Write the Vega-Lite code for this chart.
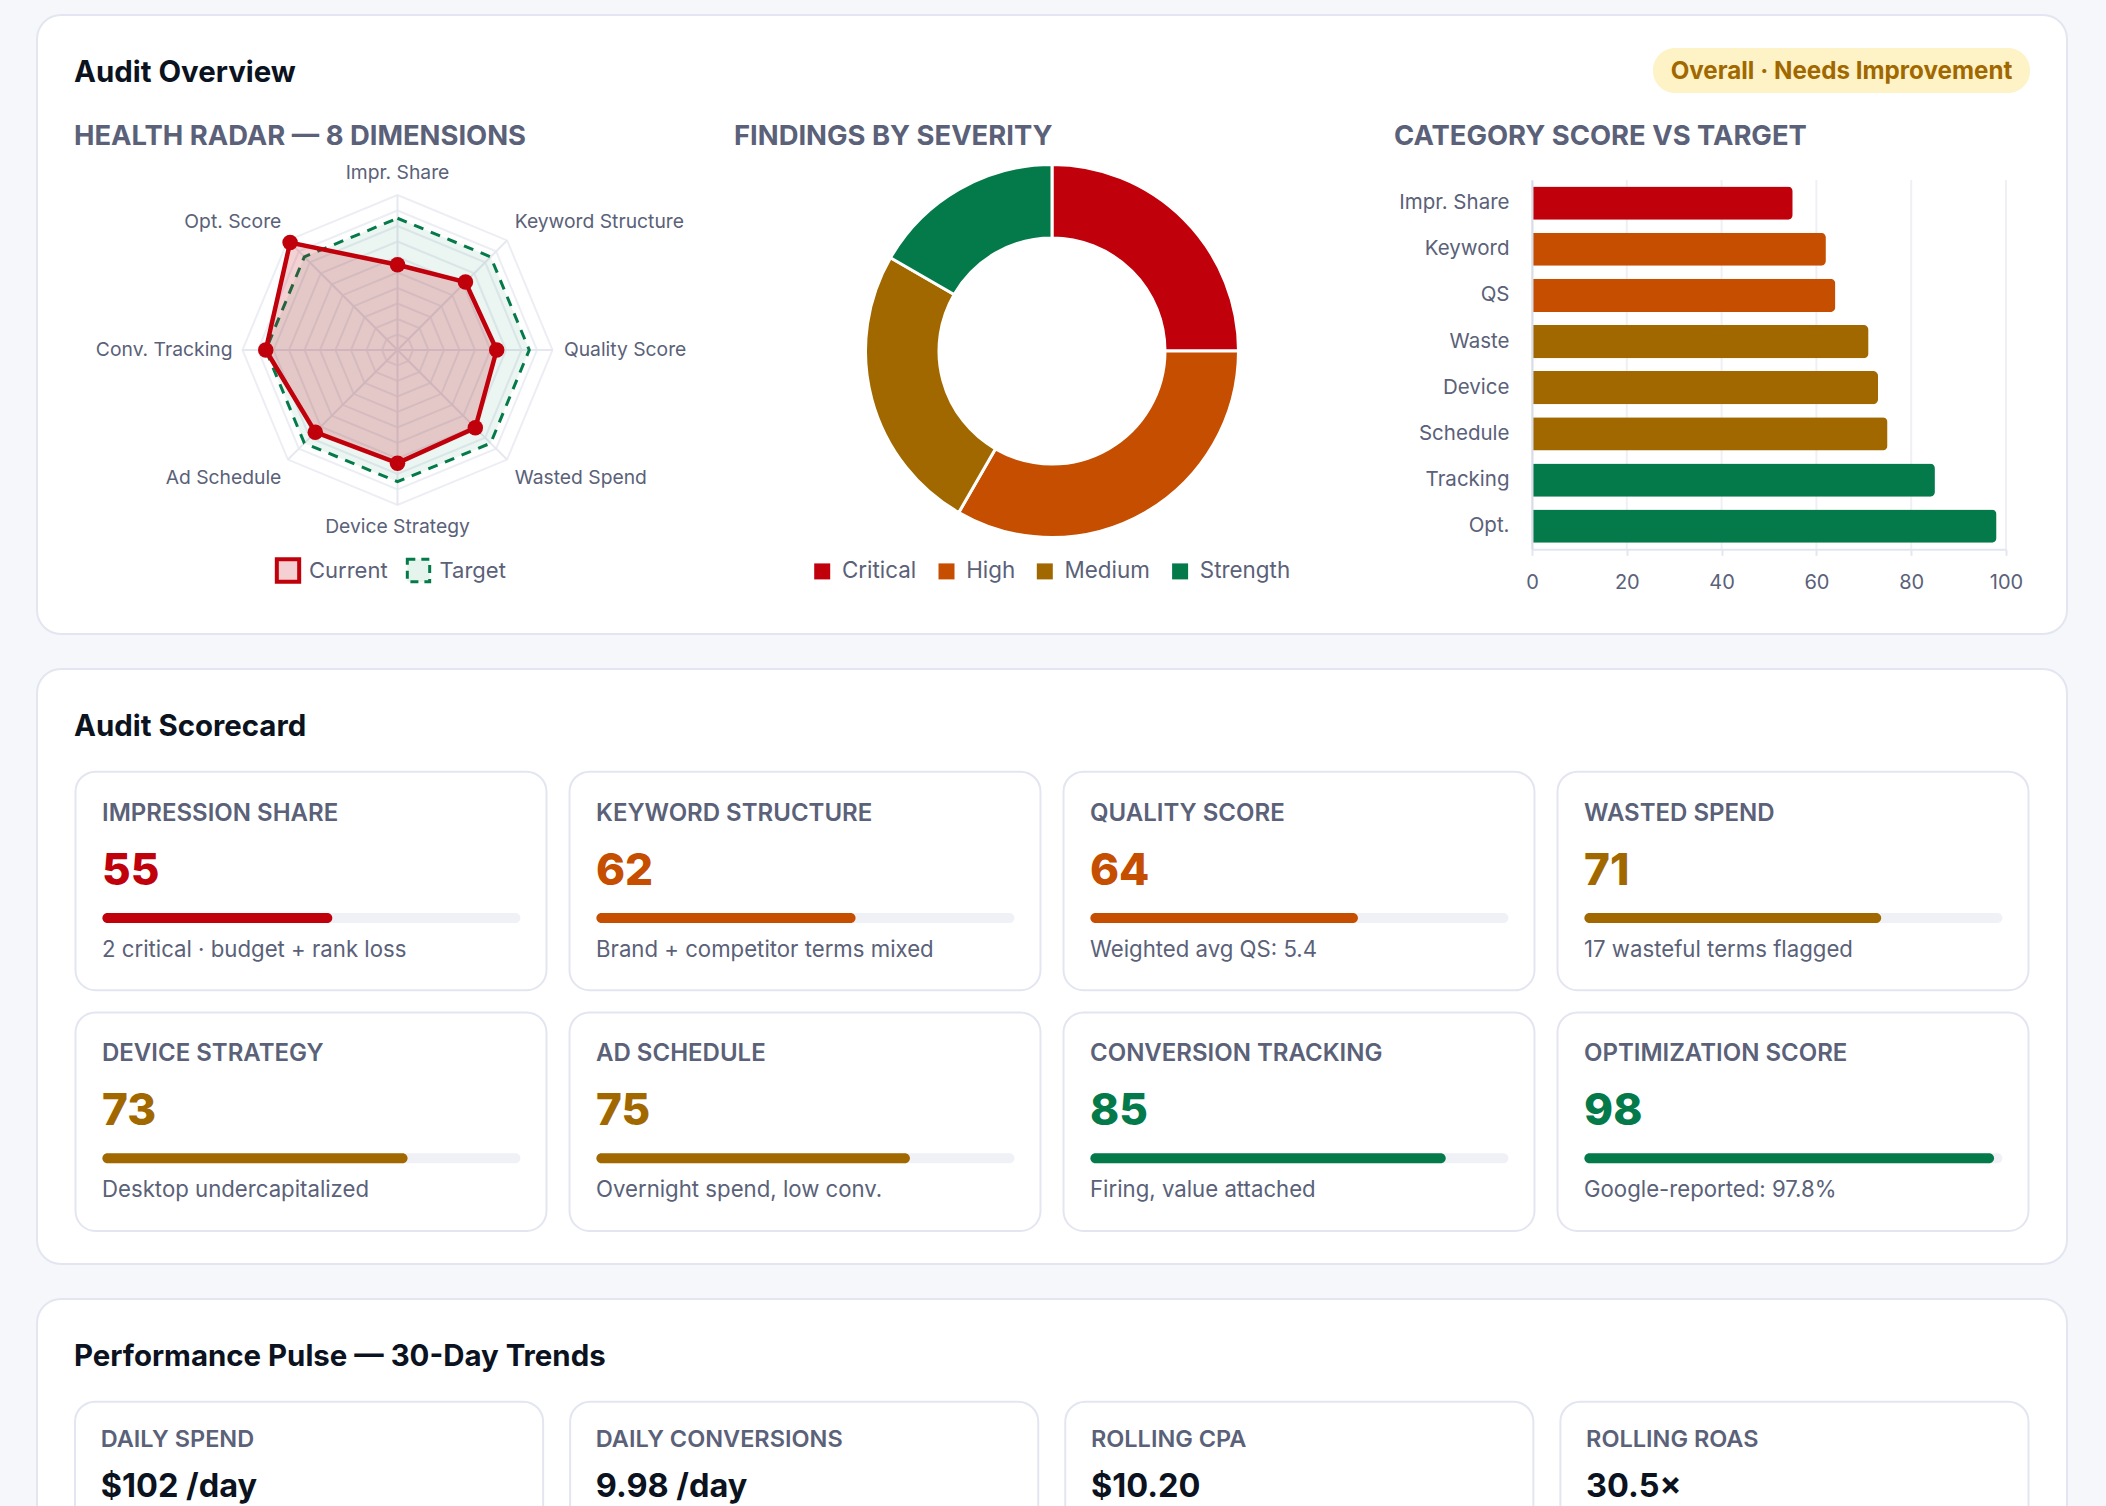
{
  "$schema": "https://vega.github.io/schema/vega-lite/v6.json",
  "description": "Audit dashboard: radar, severity donut, category bars, scorecards and pulse cards.",
  "width": 2106,
  "height": 1506,
  "padding": 0,
  "autosize": {"type": "none"},
  "background": "#f5f7fb",
  "config": {
    "font": "Inter",
    "view": {"stroke": null},
    "text": {"align": "left", "baseline": "middle"}
  },
  "datasets": {
    "audit": [
      {"category": "IMPRESSION SHARE", "radar_label": "Impr. Share", "bar_label": "Impr. Share", "score": 55, "target": 85, "severity": "Critical", "note": "2 critical · budget + rank loss"},
      {"category": "KEYWORD STRUCTURE", "radar_label": "Keyword Structure", "bar_label": "Keyword", "score": 62, "target": 85, "severity": "High", "note": "Brand + competitor terms mixed"},
      {"category": "QUALITY SCORE", "radar_label": "Quality Score", "bar_label": "QS", "score": 64, "target": 85, "severity": "High", "note": "Weighted avg QS: 5.4"},
      {"category": "WASTED SPEND", "radar_label": "Wasted Spend", "bar_label": "Waste", "score": 71, "target": 85, "severity": "Medium", "note": "17 wasteful terms flagged"},
      {"category": "DEVICE STRATEGY", "radar_label": "Device Strategy", "bar_label": "Device", "score": 73, "target": 85, "severity": "Medium", "note": "Desktop undercapitalized"},
      {"category": "AD SCHEDULE", "radar_label": "Ad Schedule", "bar_label": "Schedule", "score": 75, "target": 85, "severity": "Medium", "note": "Overnight spend, low conv."},
      {"category": "CONVERSION TRACKING", "radar_label": "Conv. Tracking", "bar_label": "Tracking", "score": 85, "target": 85, "severity": "Strength", "note": "Firing, value attached"},
      {"category": "OPTIMIZATION SCORE", "radar_label": "Opt. Score", "bar_label": "Opt.", "score": 98, "target": 85, "severity": "Strength", "note": "Google-reported: 97.8%"}
    ],
    "findings": [
      {"severity": "Critical", "count": 3, "rank": 1},
      {"severity": "High", "count": 4, "rank": 2},
      {"severity": "Medium", "count": 3, "rank": 3},
      {"severity": "Strength", "count": 2, "rank": 4}
    ],
    "pulse": [
      {"metric": "DAILY SPEND", "value": "$102 /day"},
      {"metric": "DAILY CONVERSIONS", "value": "9.98 /day"},
      {"metric": "ROLLING CPA", "value": "$10.20"},
      {"metric": "ROLLING ROAS", "value": "30.5×"}
    ],
    "rings": [
      {"ring": 10, "spoke": [0,1,2,3,4,5,6,7,8]},
      {"ring": 20, "spoke": [0,1,2,3,4,5,6,7,8]},
      {"ring": 30, "spoke": [0,1,2,3,4,5,6,7,8]},
      {"ring": 40, "spoke": [0,1,2,3,4,5,6,7,8]},
      {"ring": 50, "spoke": [0,1,2,3,4,5,6,7,8]},
      {"ring": 60, "spoke": [0,1,2,3,4,5,6,7,8]},
      {"ring": 70, "spoke": [0,1,2,3,4,5,6,7,8]},
      {"ring": 80, "spoke": [0,1,2,3,4,5,6,7,8]},
      {"ring": 90, "spoke": [0,1,2,3,4,5,6,7,8]},
      {"ring": 100, "spoke": [0,1,2,3,4,5,6,7,8]}
    ],
    "ticks": [{"tick": 0}, {"tick": 20}, {"tick": 40}, {"tick": 60}, {"tick": 80}, {"tick": 100}]
  },
  "resolve": {"scale": {"x": "independent", "y": "independent"}},
  "layer": [
    {
      "data": {"values": [{"section": "Audit Overview"}]},
      "mark": {"type": "rect", "fill": "white", "stroke": "#e3e6f0", "strokeWidth": 2, "cornerRadius": 24},
      "encoding": {
        "x": {"datum": 0, "axis": null, "scale": {"domain": [0, 1], "range": [37, 2067]}},
        "x2": {"datum": 1},
        "y": {"datum": 0, "axis": null, "scale": {"domain": [0, 1], "range": [15, 634]}},
        "y2": {"datum": 1}
      }
    },
    {
      "data": {"values": [{"section": "Audit Scorecard"}]},
      "mark": {"type": "rect", "fill": "white", "stroke": "#e3e6f0", "strokeWidth": 2, "cornerRadius": 24},
      "encoding": {
        "x": {"datum": 0, "axis": null, "scale": {"domain": [0, 1], "range": [37, 2067]}},
        "x2": {"datum": 1},
        "y": {"datum": 0, "axis": null, "scale": {"domain": [0, 1], "range": [669, 1264]}},
        "y2": {"datum": 1}
      }
    },
    {
      "data": {"values": [{"section": "Performance Pulse"}]},
      "mark": {"type": "rect", "fill": "white", "stroke": "#e3e6f0", "strokeWidth": 2, "cornerRadius": 24},
      "encoding": {
        "x": {"datum": 0, "axis": null, "scale": {"domain": [0, 1], "range": [37, 2067]}},
        "x2": {"datum": 1},
        "y": {"datum": 0, "axis": null, "scale": {"domain": [0, 1], "range": [1299, 1900]}},
        "y2": {"datum": 1}
      }
    },
    {
      "data": {"values": [{"label": "Audit Overview"}]},
      "mark": {"type": "text", "fontSize": 29.4, "fontWeight": 700, "fill": "#0b1220"},
      "encoding": {
        "text": {"field": "label"},
        "x": {"datum": 0, "axis": null, "scale": {"domain": [0, 1], "range": [74, 1074]}},
        "y": {"datum": 0, "axis": null, "scale": {"domain": [0, 1], "range": [73, 173]}}
      }
    },
    {
      "data": {"values": [{"label": "Audit Scorecard"}]},
      "mark": {"type": "text", "fontSize": 29.4, "fontWeight": 700, "fill": "#0b1220"},
      "encoding": {
        "text": {"field": "label"},
        "x": {"datum": 0, "axis": null, "scale": {"domain": [0, 1], "range": [74, 1074]}},
        "y": {"datum": 0, "axis": null, "scale": {"domain": [0, 1], "range": [727, 827]}}
      }
    },
    {
      "data": {"values": [{"label": "Performance Pulse — 30-Day Trends"}]},
      "mark": {"type": "text", "fontSize": 29.4, "fontWeight": 700, "fill": "#0b1220"},
      "encoding": {
        "text": {"field": "label"},
        "x": {"datum": 0, "axis": null, "scale": {"domain": [0, 1], "range": [74, 1074]}},
        "y": {"datum": 0, "axis": null, "scale": {"domain": [0, 1], "range": [1357, 1457]}}
      }
    },
    {
      "data": {"values": [{"label": "Overall · Needs Improvement"}]},
      "encoding": {
        "x": {"datum": 0, "axis": null, "scale": {"domain": [0, 1], "range": [1653, 2030]}},
        "y": {"datum": 0, "axis": null, "scale": {"domain": [0, 1], "range": [48, 93]}}
      },
      "layer": [
        {
          "mark": {"type": "rect", "fill": "#fdf3c7", "cornerRadius": 22},
          "encoding": {"x2": {"datum": 1}, "y2": {"datum": 1}}
        },
        {
          "mark": {"type": "text", "align": "center", "dy": 1, "fontSize": 24.2, "fontWeight": 700, "fill": "#a16800"},
          "encoding": {
            "text": {"field": "label"},
            "x": {"datum": 0.5, "axis": null},
            "y": {"datum": 0.5, "axis": null}
          }
        }
      ]
    },
    {
      "data": {"values": [{"label": "HEALTH RADAR — 8 DIMENSIONS"}, {"label": "FINDINGS BY SEVERITY"}, {"label": "CATEGORY SCORE VS TARGET"}]},
      "mark": {"type": "text", "fontSize": 27.4, "fontWeight": 700, "fill": "#5a6178"},
      "encoding": {
        "text": {"field": "label"},
        "x": {"field": "label", "type": "nominal", "sort": null, "axis": null, "scale": {"type": "point", "padding": 0, "range": [74, 1394]}},
        "y": {"datum": 0, "axis": null, "scale": {"domain": [0, 1], "range": [137, 237]}}
      }
    },
    {
      "data": {"name": "audit"},
      "transform": [
        {"window": [{"op": "row_number", "as": "n"}]},
        {"calculate": "(datum.n - 1) * PI / 4", "as": "ang"},
        {"calculate": "sin(datum.ang)", "as": "sin"},
        {"calculate": "cos(datum.ang)", "as": "cos"}
      ],
      "encoding": {
        "x": {"field": "px", "type": "quantitative", "axis": null, "scale": {"domain": [-100, 100], "range": [242.5, 552.5]}},
        "y": {"field": "py", "type": "quantitative", "axis": null, "scale": {"domain": [-100, 100], "range": [505, 195]}}
      },
      "layer": [
        {
          "data": {"name": "rings"},
          "transform": [
            {"flatten": ["spoke"]},
            {"calculate": "datum.ring * sin(datum.spoke * PI / 4)", "as": "px"},
            {"calculate": "datum.ring * cos(datum.spoke * PI / 4)", "as": "py"}
          ],
          "mark": {"type": "line", "stroke": "#eceef4", "strokeWidth": 2},
          "encoding": {
            "detail": {"field": "ring"},
            "order": {"field": "spoke", "type": "quantitative"}
          }
        },
        {
          "transform": [
            {"calculate": "0", "as": "px"},
            {"calculate": "0", "as": "py"},
            {"calculate": "100 * datum.sin", "as": "ex"},
            {"calculate": "100 * datum.cos", "as": "ey"}
          ],
          "mark": {"type": "rule", "stroke": "#e6e8f0", "strokeWidth": 2},
          "encoding": {
            "x2": {"field": "ex"},
            "y2": {"field": "ey"}
          }
        },
        {
          "transform": [
            {"calculate": "datum.target * datum.sin", "as": "px"},
            {"calculate": "datum.target * datum.cos", "as": "py"}
          ],
          "mark": {"type": "line", "interpolate": "linear-closed", "fill": "#047a4a", "fillOpacity": 0.08, "stroke": "#047a4a", "strokeWidth": 3, "strokeDash": [10, 8]},
          "encoding": {"order": {"field": "n", "type": "quantitative"}}
        },
        {
          "transform": [
            {"calculate": "datum.score * datum.sin", "as": "px"},
            {"calculate": "datum.score * datum.cos", "as": "py"}
          ],
          "mark": {"type": "line", "interpolate": "linear-closed", "fill": "#c0000a", "fillOpacity": 0.18, "stroke": "#c0000a", "strokeWidth": 4.5},
          "encoding": {"order": {"field": "n", "type": "quantitative"}}
        },
        {
          "transform": [
            {"calculate": "datum.score * datum.sin", "as": "px"},
            {"calculate": "datum.score * datum.cos", "as": "py"}
          ],
          "mark": {"type": "circle", "size": 240, "fill": "#c0000a", "opacity": 1}
        },
        {
          "transform": [
            {"filter": "datum.n == 1 || datum.n == 5"},
            {"calculate": "114.5 * datum.sin", "as": "px"},
            {"calculate": "114.5 * datum.cos", "as": "py"}
          ],
          "mark": {"type": "text", "align": "center", "fontSize": 19.3, "fill": "#5a6178"},
          "encoding": {"text": {"field": "radar_label"}}
        },
        {
          "transform": [
            {"filter": "datum.n == 2 || datum.n == 4"},
            {"calculate": "116.5 * datum.sin", "as": "px"},
            {"calculate": "116.5 * datum.cos", "as": "py"}
          ],
          "mark": {"type": "text", "align": "left", "dx": -10.5, "fontSize": 19.3, "fill": "#5a6178"},
          "encoding": {"text": {"field": "radar_label"}}
        },
        {
          "transform": [
            {"filter": "datum.n == 6 || datum.n == 8"},
            {"calculate": "116.5 * datum.sin", "as": "px"},
            {"calculate": "116.5 * datum.cos", "as": "py"}
          ],
          "mark": {"type": "text", "align": "right", "dx": 11.5, "fontSize": 19.3, "fill": "#5a6178"},
          "encoding": {"text": {"field": "radar_label"}}
        },
        {
          "transform": [
            {"filter": "datum.n == 3"},
            {"calculate": "107.4 * datum.sin", "as": "px"},
            {"calculate": "107.4 * datum.cos", "as": "py"}
          ],
          "mark": {"type": "text", "align": "left", "fontSize": 19.3, "fill": "#5a6178"},
          "encoding": {"text": {"field": "radar_label"}}
        },
        {
          "transform": [
            {"filter": "datum.n == 7"},
            {"calculate": "107.4 * datum.sin", "as": "px"},
            {"calculate": "107.4 * datum.cos", "as": "py"}
          ],
          "mark": {"type": "text", "align": "right", "dx": 1.5, "fontSize": 19.3, "fill": "#5a6178"},
          "encoding": {"text": {"field": "radar_label"}}
        }
      ]
    },
    {
      "data": {"values": [{"series": "Current"}, {"series": "Target"}]},
      "encoding": {
        "x": {"field": "series", "type": "nominal", "axis": null, "scale": {"type": "point", "padding": 0, "range": [288, 418.5]}},
        "y": {"datum": 0, "axis": null, "scale": {"domain": [0, 1], "range": [570.5, 670.5]}}
      },
      "layer": [
        {
          "transform": [{"filter": "datum.series == 'Current'"}],
          "mark": {"type": "square", "size": 500, "fill": "#f5d0d2", "stroke": "#c0000a", "strokeWidth": 4, "opacity": 1}
        },
        {
          "transform": [{"filter": "datum.series == 'Target'"}],
          "mark": {"type": "square", "size": 500, "fill": "#e6f4ee", "stroke": "#047a4a", "strokeWidth": 3, "strokeDash": [8, 6], "opacity": 1}
        },
        {
          "mark": {"type": "text", "dx": 21, "fontSize": 22, "fill": "#5a6178"},
          "encoding": {"text": {"field": "series"}}
        }
      ]
    },
    {
      "data": {"name": "findings"},
      "mark": {"type": "arc", "innerRadius": 113, "outerRadius": 186.5, "stroke": "white", "strokeWidth": 3},
      "encoding": {
        "x": {"datum": 0, "axis": null, "scale": {"domain": [0, 1], "range": [1052, 2052]}},
        "y": {"datum": 0, "axis": null, "scale": {"domain": [0, 1], "range": [351, 1351]}},
        "theta": {"field": "count", "type": "quantitative", "stack": true},
        "order": {"field": "rank", "type": "quantitative"},
        "color": {
          "field": "severity",
          "type": "nominal",
          "scale": {"domain": ["Critical", "High", "Medium", "Strength"], "range": ["#c0000a", "#c54e00", "#a16800", "#047a4a"]},
          "legend": {
            "title": null,
            "orient": "none",
            "legendX": 811,
            "legendY": 560,
            "direction": "horizontal",
            "columns": 4,
            "symbolType": "square",
            "symbolSize": 256,
            "symbolStrokeWidth": 0,
            "labelFontSize": 22.4,
            "labelColor": "#5a6178",
            "labelOffset": 8.5,
            "columnPadding": 18.3
          }
        }
      }
    },
    {
      "data": {"name": "ticks"},
      "mark": {"type": "rule", "stroke": "#eef0f5", "strokeWidth": 2},
      "encoding": {
        "x": {"field": "tick", "type": "quantitative", "axis": null, "scale": {"domain": [0, 100], "range": [1532, 2006]}},
        "y": {"datum": 0, "axis": null, "scale": {"domain": [0, 1], "range": [180, 549.3]}},
        "y2": {"datum": 1}
      }
    },
    {
      "data": {"name": "audit"},
      "mark": {"type": "bar", "cornerRadiusEnd": 5},
      "encoding": {
        "x": {
          "field": "score",
          "type": "quantitative",
          "scale": {"domain": [0, 100], "range": [1532, 2006]},
          "axis": {
            "zindex": 1,
            "orient": "bottom",
            "offset": -956.7,
            "title": null,
            "grid": false,
            "values": [0, 20, 40, 60, 80, 100],
            "domainColor": "#e3e6f0",
            "domainWidth": 2,
            "tickColor": "#e3e6f0",
            "tickWidth": 2,
            "tickSize": 6,
            "labelFlush": false,
            "labelFontSize": 20,
            "labelColor": "#5a6178",
            "labelPadding": 17
          }
        },
        "y": {
          "field": "bar_label",
          "type": "nominal",
          "sort": null,
          "scale": {"range": [180, 549.3], "paddingInner": 0.28, "paddingOuter": 0.14},
          "axis": {
            "zindex": 1,
            "orient": "left",
            "offset": -1532,
            "title": null,
            "grid": false,
            "ticks": false,
            "domainColor": "#d9dce6",
            "domainWidth": 2,
            "labelFontSize": 20.5,
            "labelColor": "#5a6178",
            "labelPadding": 23
          }
        },
        "color": {"field": "severity", "type": "nominal", "legend": null}
      }
    },
    {
      "data": {"name": "audit"},
      "transform": [
        {"window": [{"op": "row_number", "as": "n"}]},
        {"calculate": "(datum.n - 1) % 4", "as": "col"},
        {"calculate": "floor((datum.n - 1) / 4)", "as": "row"}
      ],
      "encoding": {
        "x": {"field": "col", "type": "ordinal", "bandPosition": 0, "axis": null, "scale": {"type": "band", "domain": [0, 1, 2, 3], "range": [75.5, 2028.5], "paddingInner": 0.0466, "paddingOuter": 0}},
        "y": {"field": "row", "type": "ordinal", "bandPosition": 0, "axis": null, "scale": {"type": "band", "domain": [0, 1], "range": [771.7, 1231], "paddingInner": 0.092, "paddingOuter": 0}}
      },
      "layer": [
        {
          "mark": {"type": "rect", "fill": "white", "stroke": "#e3e6f0", "strokeWidth": 2, "cornerRadius": 20},
          "encoding": {
            "x": {"field": "col", "type": "ordinal", "axis": null},
            "y": {"field": "row", "type": "ordinal", "axis": null}
          }
        },
        {
          "mark": {"type": "text", "dx": 26.5, "dy": 42, "fontSize": 24, "fontWeight": 600, "fill": "#5a6178"},
          "encoding": {"text": {"field": "category"}}
        },
        {
          "mark": {"type": "text", "dx": 26.5, "dy": 100, "fontSize": 44, "fontWeight": 800},
          "encoding": {
            "text": {"field": "score"},
            "color": {"field": "severity", "type": "nominal", "legend": null}
          }
        },
        {
          "mark": {"type": "text", "dx": 26.5, "dy": 178, "fontSize": 22.2, "fill": "#5a6178"},
          "encoding": {"text": {"field": "note"}}
        }
      ]
    },
    {
      "data": {"name": "audit"},
      "transform": [
        {"window": [{"op": "row_number", "as": "n"}]},
        {"calculate": "(datum.n - 1) % 4", "as": "col"},
        {"calculate": "floor((datum.n - 1) / 4)", "as": "row"},
        {"calculate": "datum.col * 118.18", "as": "start"},
        {"calculate": "datum.start + 100", "as": "full"},
        {"calculate": "datum.start + datum.score", "as": "end"}
      ],
      "encoding": {
        "x": {"field": "start", "type": "quantitative", "axis": null, "scale": {"domain": [0, 454.54], "range": [102.4, 2002.4]}},
        "y": {"field": "row", "type": "ordinal", "axis": null, "scale": {"type": "point", "domain": [0, 1], "range": [918, 1158.3], "padding": 0}}
      },
      "layer": [
        {
          "mark": {"type": "bar", "size": 10, "cornerRadius": 5, "fill": "#eff1f7"},
          "encoding": {"x2": {"field": "full"}}
        },
        {
          "mark": {"type": "bar", "size": 10, "cornerRadius": 5},
          "encoding": {
            "x2": {"field": "end"},
            "color": {"field": "severity", "type": "nominal", "legend": null}
          }
        }
      ]
    },
    {
      "data": {"name": "pulse"},
      "encoding": {
        "x": {"field": "metric", "type": "nominal", "sort": null, "bandPosition": 0, "axis": null, "scale": {"type": "band", "range": [75, 2028.5], "paddingInner": 0.0545, "paddingOuter": 0}},
        "y": {"datum": 0, "axis": null, "scale": {"domain": [0, 1], "range": [1401.7, 1900]}}
      },
      "layer": [
        {
          "mark": {"type": "rect", "fill": "white", "stroke": "#e3e6f0", "strokeWidth": 2, "cornerRadius": 20},
          "encoding": {
            "x": {"field": "metric", "type": "nominal", "sort": null, "axis": null},
            "y2": {"datum": 1}
          }
        },
        {
          "mark": {"type": "text", "dx": 25.7, "dy": 38, "fontSize": 23.5, "fontWeight": 600, "fill": "#5a6178"},
          "encoding": {"text": {"field": "metric"}}
        },
        {
          "mark": {"type": "text", "dx": 25.7, "dy": 85, "fontSize": 32.5, "fontWeight": 700, "fill": "#0b1220"},
          "encoding": {"text": {"field": "value"}}
        }
      ]
    }
  ]
}
